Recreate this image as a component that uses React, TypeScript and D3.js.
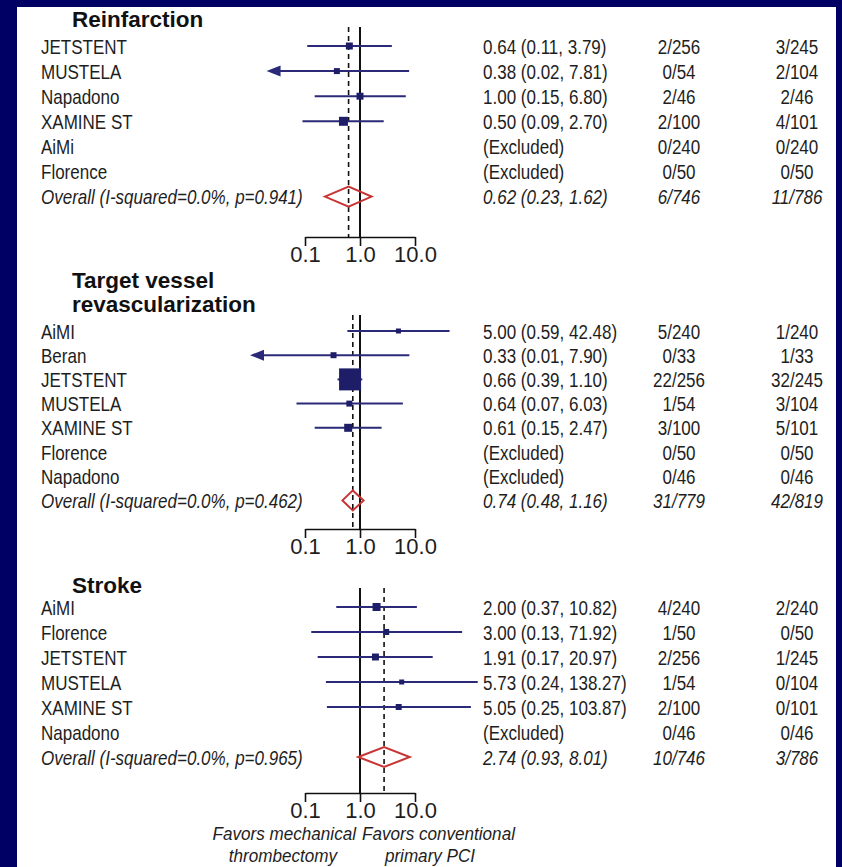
import { useEffect, useRef } from 'react';
import * as d3 from 'd3';

// ---- Reinfarction ----
const reStudies = ['JETSTENT', 'MUSTELA', 'Napadono', 'XAMINE ST', 'AiMi', 'Florence'];
const reOR = [0.64, 0.38, 1.0, 0.5, null, null];
const reLo = [0.11, 0.02, 0.15, 0.09, null, null];
const reHi = [3.79, 7.81, 6.8, 2.7, null, null];
const reBox = [7.2, 5.3, 7.2, 12, 0, 0];
const reN1 = ['2/256', '0/54', '2/46', '2/100', '0/240', '0/50'];
const reN2 = ['3/245', '2/104', '2/46', '4/101', '0/240', '0/50'];

// ---- Target vessel revascularization ----
const tvrStudies = ['AiMI', 'Beran', 'JETSTENT', 'MUSTELA', 'XAMINE ST', 'Florence', 'Napadono'];
const tvrOR = [5.0, 0.33, 0.66, 0.64, 0.61, null, null];
const tvrLo = [0.59, 0.01, 0.39, 0.07, 0.15, null, null];
const tvrHi = [42.48, 7.9, 1.1, 6.03, 2.47, null, null];
const tvrBox = [3.7, 5.3, 72, 5.3, 9.5, 0, 0];
const tvrN1 = ['5/240', '0/33', '22/256', '1/54', '3/100', '0/50', '0/46'];
const tvrN2 = ['1/240', '1/33', '32/245', '3/104', '5/101', '0/50', '0/46'];

// ---- Stroke ----
const stStudies = ['AiMI', 'Florence', 'JETSTENT', 'MUSTELA', 'XAMINE ST', 'Napadono'];
const stOR = [2.0, 3.0, 1.91, 5.73, 5.05, null];
const stLo = [0.37, 0.13, 0.17, 0.24, 0.25, null];
const stHi = [10.82, 71.92, 20.97, 138.27, 103.87, null];
const stBox = [9.5, 5.3, 7.2, 3.7, 5.3, 0];
const stN1 = ['4/240', '1/50', '2/256', '1/54', '2/100', '0/46'];
const stN2 = ['2/240', '0/50', '1/245', '0/104', '0/101', '0/46'];

// ---- pooled rows ----
const outcomeTitles = [['Reinfarction'], ['Target vessel', 'revascularization'], ['Stroke']];
const overallOR = [0.62, 0.74, 2.74];
const overallLo = [0.23, 0.48, 0.93];
const overallHi = [1.62, 1.16, 8.01];
const overallP = ['0.941', '0.462', '0.965'];
const overallN1 = ['6/746', '31/779', '10/746'];
const overallN2 = ['11/786', '42/819', '3/786'];

const tickValues = [0.1, 1, 10];
const favorsLeft = ['Favors mechanical', 'thrombectomy'];
const favorsRight = ['Favors conventional', 'primary PCI'];

const ARROW_BELOW = 0.05;

const panels = [
  { studies: reStudies, or: reOR, lo: reLo, hi: reHi, box: reBox, n1: reN1, n2: reN2 },
  { studies: tvrStudies, or: tvrOR, lo: tvrLo, hi: tvrHi, box: tvrBox, n1: tvrN1, n2: tvrN2 },
  { studies: stStudies, or: stOR, lo: stLo, hi: stHi, box: stBox, n1: stN1, n2: stN2 },
];

// layout
const W = 842;
const H = 867;
const firstRow = [46, 331, 607];
const rowStep = [25.1, 24.2, 25];
const lineTop = [27, 315, 588];
const axisY = [237, 529, 793];
const titleY = [[27], [288, 312], [593]];

const NAVY = '#000064';
const CI = '#2a2a78';
const BOX = '#1d1d68';
const RED = '#c83434';
const TXT = '#1e1e1e';
const FONT = "'Liberation Sans', Arial, Helvetica, sans-serif";
const NARROW = 0.81;

const x = d3.scaleLog().domain([0.1, 10]).range([305, 415]);
const boxSize = d3.scaleSqrt().domain([0, 72]).range([0, 22]);
const fmt = d3.format('.2f');

const Txt = ({ x: tx, y, children, anchor = 'start', italic = false, size = 21, sx = NARROW }: any) => (
  <text
    transform={`translate(${tx},${y}) scale(${sx},1)`}
    textAnchor={anchor}
    fontStyle={italic ? 'italic' : 'normal'}
    fontSize={size}
    fontFamily={FONT}
    fill={TXT}
  >
    {children}
  </text>
);

const LogAxis = ({ y }: { y: number }) => {
  const ref = useRef<SVGGElement>(null);
  useEffect(() => {
    if (!ref.current) return;
    const g = d3.select(ref.current);
    g.selectAll('*').remove();
    g.call(
      d3.axisBottom(x)
        .tickValues(tickValues)
        .tickFormat(d3.format('.1f') as any)
        .tickSize(9)
        .tickSizeOuter(0)
        .tickPadding(0)
    );
    g.attr('font-size', null).attr('font-family', null);
    g.select('.domain').attr('stroke', '#111').attr('stroke-width', 1.6);
    g.selectAll('.tick line').attr('stroke', '#111').attr('stroke-width', 1.6);
    g.selectAll('.tick text')
      .attr('font-size', 22)
      .attr('font-family', FONT)
      .attr('fill', TXT);
  }, [y]);
  return <g ref={ref} transform={`translate(0,${y})`} />;
};

const Panel = ({ p, i }: { p: any; i: number }) => {
  const n = p.studies.length;
  const y = d3.scaleLinear().domain([0, 1]).range([firstRow[i], firstRow[i] + rowStep[i]]);
  const yo = y(n);
  const ox = x(overallOR[i]);
  const dh = 10;
  const base = (v: number) => v + 7.5;
  return (
    <g>
      {outcomeTitles[i].map((t, k) => (
        <text key={t} x={72} y={titleY[i][k]} fontSize={22.5} fontWeight="bold" fontFamily={FONT} fill="#111">
          {t}
        </text>
      ))}

      {/* reference lines */}
      <line x1={x(1)} x2={x(1)} y1={lineTop[i]} y2={axisY[i]} stroke="#111" strokeWidth={2} />
      <line x1={ox} x2={ox} y1={lineTop[i]} y2={axisY[i]} stroke="#111" strokeWidth={1.6} strokeDasharray="5,4" />

      {p.studies.map((s: string, k: number) => {
        const yy = y(k);
        const or = p.or[k];
        const lo = p.lo[k];
        const hi = p.hi[k];
        const est = or == null ? '(Excluded)' : `${fmt(or)} (${fmt(lo)}, ${fmt(hi)})`;
        const arrow = lo != null && lo < ARROW_BELOW;
        const sz = boxSize(p.box[k]);
        return (
          <g key={s}>
            <Txt x={41} y={base(yy)}>{s}</Txt>
            {or != null && (
              <g>
                <line
                  x1={arrow ? x(lo) + 13 : x(lo)}
                  x2={x(hi)}
                  y1={yy}
                  y2={yy}
                  stroke={CI}
                  strokeWidth={2}
                />
                {arrow && (
                  <path d={`M${x(lo)},${yy}L${x(lo) + 14},${yy - 5.5}L${x(lo) + 14},${yy + 5.5}Z`} fill={CI} />
                )}
                <rect x={x(or) - sz / 2} y={yy - sz / 2} width={sz} height={sz} fill={BOX} />
              </g>
            )}
            <Txt x={483} y={base(yy)}>{est}</Txt>
            <Txt x={679} y={base(yy)} anchor="middle">{p.n1[k]}</Txt>
            <Txt x={797} y={base(yy)} anchor="middle">{p.n2[k]}</Txt>
          </g>
        );
      })}

      {/* pooled estimate */}
      <path
        d={`M${x(overallLo[i])},${yo}L${ox},${yo - dh}L${x(overallHi[i])},${yo}L${ox},${yo + dh}Z`}
        fill="none"
        stroke={RED}
        strokeWidth={2}
      />
      <Txt x={41} y={base(yo)} italic>{`Overall (I-squared=0.0%, p=${overallP[i]})`}</Txt>
      <Txt x={483} y={base(yo)} italic>
        {`${fmt(overallOR[i])} (${fmt(overallLo[i])}, ${fmt(overallHi[i])})`}
      </Txt>
      <Txt x={679} y={base(yo)} anchor="middle" italic>{overallN1[i]}</Txt>
      <Txt x={797} y={base(yo)} anchor="middle" italic>{overallN2[i]}</Txt>

      <LogAxis y={axisY[i]} />
    </g>
  );
};

export default function App() {
  const fy = [840, 862];
  return (
    <svg width={W} height={H} style={{ position: 'absolute', left: 0, top: 0 }}>
      <rect x={0} y={0} width={W} height={H} fill={NAVY} />
      <rect x={17} y={7} width={819} height={H - 7} fill="#ffffff" />
      {panels.map((p, i) => (
        <Panel key={i} p={p} i={i} />
      ))}
      {favorsLeft.map((t, k) => (
        <Txt key={t} x={k === 0 ? 356 : 283} y={fy[k]} anchor={k === 0 ? 'end' : 'middle'} italic size={19} sx={0.9}>
          {t}
        </Txt>
      ))}
      {favorsRight.map((t, k) => (
        <Txt key={t} x={k === 0 ? 362 : 430} y={fy[k]} anchor={k === 0 ? 'start' : 'middle'} italic size={19} sx={0.9}>
          {t}
        </Txt>
      ))}
    </svg>
  );
}
